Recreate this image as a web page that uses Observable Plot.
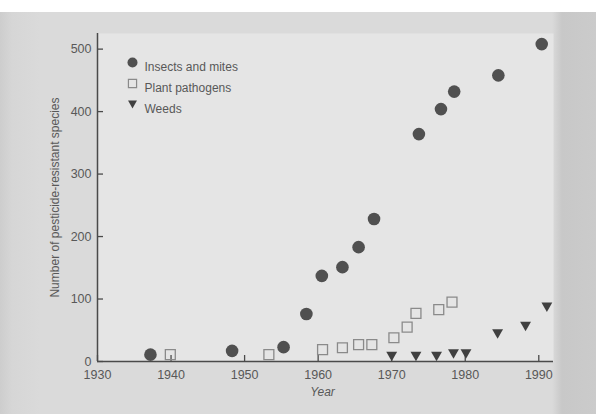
<!DOCTYPE html>
<html>
<head>
<meta charset="utf-8">
<script src="https://cdn.jsdelivr.net/npm/d3@7"></script>
<script src="https://cdn.jsdelivr.net/npm/@observablehq/plot@0.6"></script>
<style>
  html, body { margin: 0; padding: 0; background: #ffffff; }
  #chart { width: 596px; height: 414px; }
</style>
</head>
<body>
<div id="chart"></div>
<script>
// ---- data ----
const seriesNames = ["Insects and mites", "Plant pathogens", "Weeds"];
const insectYears = [1937.2, 1948.3, 1955.3, 1958.4, 1960.5, 1963.3, 1965.5, 1967.6, 1973.7, 1976.7, 1978.5, 1984.5, 1990.4];
const insectCounts = [11, 17, 23, 76, 137, 151, 183, 228, 364, 404, 432, 458, 508];
const pathogenYears = [1939.9, 1953.3, 1960.6, 1963.3, 1965.5, 1967.3, 1970.3, 1972.1, 1973.3, 1976.4, 1978.2];
const pathogenCounts = [11, 11, 19, 22, 27, 27, 38, 55, 77, 83, 95];
const weedYears = [1970.0, 1973.3, 1976.1, 1978.4, 1980.1, 1984.4, 1988.2, 1991.1];
const weedCounts = [8, 8, 8, 12, 12, 44, 56, 87];
const xTicks = [1930, 1940, 1950, 1960, 1970, 1980, 1990];
const yTicks = [0, 100, 200, 300, 400, 500];
const xLabel = "Year";
const yLabel = "Number of pesticide-resistant species";

const toRows = (ys, vs) => ys.map((y, i) => ({year: y, count: vs[i]}));
const insects = toRows(insectYears, insectCounts);
const pathogens = toRows(pathogenYears, pathogenCounts);
const weeds = toRows(weedYears, weedCounts);

// downward-pointing triangle symbol
const triangleDown = {
  draw(context, size) {
    const s = Math.sqrt(size * 1.2);
    const h = s * 0.87;
    context.moveTo(-s / 2, -h / 2);
    context.lineTo(s / 2, -h / 2);
    context.lineTo(0, h / 2);
    context.closePath();
  }
};

const ink = "#4a4a4a";
const textColor = "#585858";
const font = "'Liberation Sans', Arial, sans-serif";

const legendSpecs = [
  {symbol: "circle", fill: "#505050", stroke: "none"},
  {symbol: "square", fill: "none", stroke: "#8a8a8a"},
  {symbol: triangleDown, fill: "#404040", stroke: "none"}
];
const legendMarks = seriesNames.flatMap((name, i) => [
  Plot.dot([name], {frameAnchor: "top-left", dx: 35, dy: 29 + i * 21, r: i === 0 ? 5 : 4.6,
    symbol: legendSpecs[i].symbol, fill: legendSpecs[i].fill, stroke: legendSpecs[i].stroke, strokeWidth: 1.2}),
  Plot.text([name], {frameAnchor: "top-left", dx: 47, dy: 29 + i * 21, text: d => d, textAnchor: "start",
    fontSize: 12, fill: textColor, fontFamily: font, style: "letter-spacing:0.5px"})
]);

const chart = Plot.plot({
  width: 596,
  height: 414,
  marginLeft: 97,
  marginRight: 43,
  marginTop: 33,
  marginBottom: 53,
  style: {
    background: "linear-gradient(to bottom, #ffffff 0px, #ffffff 12px, transparent 12px), linear-gradient(to right, #cdcdcd 0px, #d6d6d6 12px, #dadada 40px, #dadada 552px, #c8c8c8 562px, #cbcbcb 596px)",
    fontFamily: font,
    fontSize: "12.5px",
    color: textColor
  },
  x: {domain: [1930, 1992], ticks: xTicks, tickFormat: d => String(d)},
  y: {domain: [0, 525], ticks: yTicks},
  marks: [
    Plot.frame({fill: "#e5e5e5", stroke: "none"}),
    Plot.axisX({ticks: xTicks, tickSize: -6, tickPadding: 15, tickFormat: d => String(d), label: null, fontSize: 12.5, stroke: ink, strokeWidth: 1.3, fill: textColor}),
    Plot.axisY({ticks: yTicks, tickSize: -6, tickPadding: 12, label: null, fontSize: 12.5, stroke: ink, strokeWidth: 1.3, fill: textColor}),
    Plot.ruleX([1930], {stroke: ink, strokeWidth: 1.5}),
    Plot.ruleY([0], {stroke: ink, strokeWidth: 1.5}),
    Plot.dot(insects, {x: "year", y: "count", r: 6.3, symbol: "circle", fill: "#505050"}),
    Plot.dot(pathogens, {x: "year", y: "count", r: 5.6, symbol: "square", fill: "none", stroke: "#8a8a8a", strokeWidth: 1.3}),
    Plot.dot(weeds, {x: "year", y: "count", r: 5.6, symbol: triangleDown, fill: "#404040"}),
    ...legendMarks,
    Plot.text([yLabel], {frameAnchor: "left", dx: -42, rotate: -90, textAnchor: "middle", text: d => d, fontSize: 12, fill: textColor, fontFamily: font, style: "letter-spacing:0.5px"}),
    Plot.text([xLabel], {frameAnchor: "bottom", dx: -3, dy: 34, text: d => d, fontSize: 12, fontStyle: "italic", fill: textColor, fontFamily: font})
  ]
});
document.getElementById("chart").appendChild(chart);
</script>
</body>
</html>
